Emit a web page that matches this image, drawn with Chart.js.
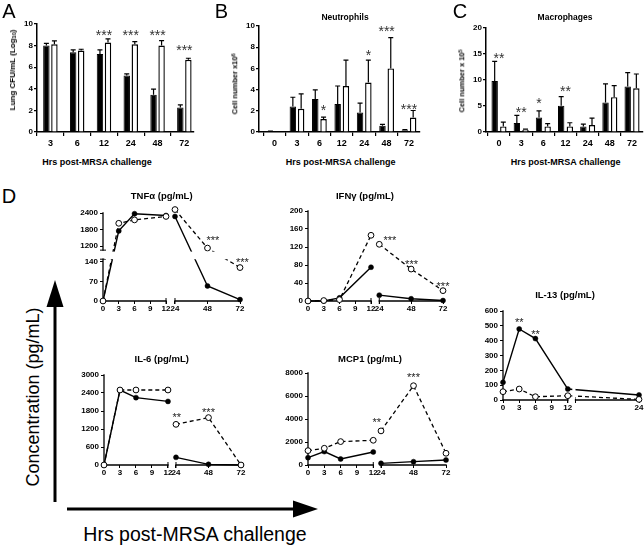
<!DOCTYPE html>
<html><head><meta charset="utf-8">
<script src="https://cdn.jsdelivr.net/npm/chart.js@4.4.0/dist/chart.umd.min.js"></script>
<style>
html,body{margin:0;padding:0;background:#fff;}
#wrap{position:relative;width:644px;height:547px;overflow:hidden;font-family:'Liberation Sans',Arial,sans-serif;color:#000;background:#fff;}
canvas{position:absolute;}
.t{position:absolute;white-space:nowrap;line-height:1;transform:translate(-50%,-50%);}
sup{font-size:0.7em;vertical-align:0.45em;line-height:0;}
sub{font-size:0.7em;vertical-align:-0.25em;line-height:0;}
svg{position:absolute;left:0;top:0;}
</style></head>
<body><div id="wrap"></div>
<script>
// ---------------- DATA ----------------
const hoursA = ['3','6','12','24','48','72'];
const cfuBlack = [8.0, 7.38, 7.23, 5.23, 3.45, 2.28];
const cfuBlackErr = [0.2, 0.22, 0.37, 0.15, 0.52, 0.24];
const cfuWhite = [8.12, 7.54, 8.28, 8.12, 8.0, 6.68];
const cfuWhiteErr = [0.31, 0.12, 0.34, 0.25, 0.46, 0.15];
const cfuTicks = [0, 2, 4, 6, 8, 10];
const starsA = [[2, 9.3, '***'], [3, 9.3, '***'], [4, 9.3, '***'], [5, 7.9, '***']];

const hoursBC = ['0','3','6','12','24','48','72'];
const neuBlack = [0.06, 2.4, 3.12, 2.65, 1.84, 0.6, 0.16];
const neuBlackErr = [0.02, 0.88, 0.85, 1.69, 0.88, 0.12, 0.06];
const neuWhite = [0, 2.19, 1.22, 4.34, 4.66, 6.0, 1.37];
const neuWhiteErr = [0, 1.4, 0.18, 2.44, 2.12, 2.9, 0.66];
const neuTicks = [0, 2, 4, 6, 8, 10];
const starsB = [[2, 2.33, '*', 1], [4, 7.58, '*', 1], [5, 9.78, '***'], [6, 2.45, '***']];

const macBlack = [9.8, 1.72, 2.8, 5.03, 1.08, 5.67, 8.73];
const macBlackErr = [3.8, 1.46, 1.28, 1.77, 0.45, 3.57, 2.67];
const macWhite = [1.08, 0.45, 1.08, 1.08, 1.34, 6.69, 8.41];
const macWhiteErr = [0.83, 0.12, 0.52, 0.7, 1.34, 2.23, 2.74];
const macTicks = [0, 5, 10, 15, 20];
const starsC = [[0, 14.8, '**'], [1, 4.4, '**'], [2, 6.15, '*', 0], [3, 8.5, '**']];

const cytoTimes = [0, 3, 6, 12, 24, 48, 72];
const timeTicks = [0, 3, 6, 9, 12, 24, 48, 72];

const tnfBlack = [0, 1750, 2375, 2310, 2275, 54, 5];
const tnfWhite = [0, 2025, 2150, 2275, 2525, 1125, 120];
const tnfTicks = [0, 70, 140, 1200, 1800, 2400];
const starsTNF = [[52, 1490, '***'], [73.7, 150, '***']];

const ifnBlack = [0, 0, 7, 75, 13, 5, 1];
const ifnWhite = [0, 1, 3, 146, 126, 71, 23];
const ifnTicks = [0, 40, 80, 120, 160, 200];
const starsIFN = [[32, 140, '***'], [48.3, 88.5, '***'], [72, 39, '***']];

const il6Black = [0, 2500, 2245, 2120, 255, 22, 0];
const il6White = [0, 2500, 2500, 2500, 1355, 1580, 0];
const il6Ticks = [0, 600, 1200, 1800, 2400, 3000];
const starsIL6 = [[24.5, 1667, '**'], [48, 1857, '***']];

const mcpBlack = [640, 1165, 525, 1135, 145, 290, 435];
const mcpWhite = [1250, 1455, 2035, 2150, 2965, 6895, 1020];
const mcpTicks = [0, 2000, 4000, 6000, 8000];
const starsMCP = [[17.3, 3930, '**'], [48, 7850, '***']];

const il13Times = [0, 3, 6, 12, 24];
const il13TimeTicks = [0, 3, 6, 9, 12, 24];
const il13Black = [119, 479, 414, 74, 34];
const il13White = [56, 74, 22, 29, 4];
const il13Ticks = [0, 100, 200, 300, 400, 500, 600];
const starsIL13 = [[3, 542, '**'], [6, 458, '**']];

// ---------------- SETUP ----------------
const FONT = "'Liberation Sans', Arial, sans-serif";
Chart.defaults.font.family = FONT;
Chart.defaults.color = '#000';
const wrap = document.getElementById('wrap');

function addCanvas(id, left, top, w, h) {
  const c = document.createElement('canvas');
  c.id = id; c.width = w; c.height = h;
  c.style.left = left + 'px'; c.style.top = top + 'px';
  c.style.width = w + 'px'; c.style.height = h + 'px';
  wrap.appendChild(c);
  return c;
}
function txt(html, x, y, size, bold, rot) {
  const d = document.createElement('div');
  d.className = 't'; d.innerHTML = html;
  d.style.left = x + 'px'; d.style.top = y + 'px';
  d.style.fontSize = size + 'px';
  d.style.fontWeight = bold ? 'bold' : 'normal';
  if (rot) d.style.transform = 'translate(-50%,-50%) rotate(-90deg)';
  wrap.appendChild(d);
}

// broken-axis scale
const brokenDefs = {};
function segDec(segs, v) {
  for (let i = 0; i < segs.length; i++) {
    const s = segs[i];
    if (v < s.from) {
      if (i === 0) return s.p0 + (v - s.from) / (s.to - s.from) * (s.p1 - s.p0);
      const p = segs[i - 1];
      return p.p1 + (v - p.to) / (s.from - p.to) * (s.p0 - p.p1);
    }
    if (v <= s.to) return s.p0 + (v - s.from) / (s.to - s.from) * (s.p1 - s.p0);
  }
  const s = segs[segs.length - 1];
  return s.p0 + (v - s.from) / (s.to - s.from) * (s.p1 - s.p0);
}
function segVal(segs, d) {
  for (let i = 0; i < segs.length; i++) {
    const s = segs[i];
    if (d <= s.p1 || i === segs.length - 1) return s.from + (d - s.p0) / (s.p1 - s.p0) * (s.to - s.from);
  }
}
class BrokenScale extends Chart.LinearScale {
  _segs() { return brokenDefs[this.chart.canvas.id][this.id]; }
  getPixelForValue(v) {
    if (v === null || v === undefined || isNaN(v)) return NaN;
    return this.getPixelForDecimal(segDec(this._segs(), v));
  }
  getValueForPixel(p) { return segVal(this._segs(), this.getDecimalForPixel(p)); }
}
BrokenScale.id = 'broken';
BrokenScale.defaults = {};
Chart.register(BrokenScale);

// ---------------- BAR PANELS ----------------
function makeBar(id, g, labels, blk, blkErr, wht, whtErr, yTicks, stars, xr, catPct, barPct) {
  const cv = addCanvas(id, g.left, 0, g.w, g.h);
  const idx = labels.map((_, i) => i);
  const vals = [blk, wht], errs = [blkErr, whtErr];
  const plug = {
    id: 'eb_' + id,
    afterDatasetsDraw(chart) {
      const ctx = chart.ctx, ys = chart.scales.y, xs = chart.scales.x;
      ctx.save();
      ctx.strokeStyle = '#000'; ctx.lineWidth = 1.2;
      [0, 1].forEach(di => {
        const meta = chart.getDatasetMeta(di);
        meta.data.forEach((el, i) => {
          const e = errs[di][i]; if (!e) return;
          const x = el.x, y0 = ys.getPixelForValue(vals[di][i]), y1 = ys.getPixelForValue(vals[di][i] + e);
          ctx.beginPath();
          ctx.moveTo(x, y0); ctx.lineTo(x, y1);
          ctx.moveTo(x - 2.5, y1); ctx.lineTo(x + 2.5, y1);
          ctx.stroke();
        });
      });
      ctx.fillStyle = '#333'; ctx.font = '14px ' + FONT;
      ctx.textAlign = 'center'; ctx.textBaseline = 'alphabetic';
      stars.forEach(([ci, v, t, bar]) => {
        const x = (bar === undefined) ? xs.getPixelForValue(ci) : chart.getDatasetMeta(bar).data[ci].x;
        ctx.fillText(t, x, ys.getPixelForValue(v) + 0.58 * 14);
      });
      ctx.restore();
    }
  };
  new Chart(cv, {
    type: 'bar',
    data: { datasets: [
      { data: idx.map(i => ({ x: i, y: blk[i] })), backgroundColor: '#000', borderColor: '#000', borderWidth: 1,
        categoryPercentage: catPct, barPercentage: barPct },
      { data: idx.map(i => ({ x: i, y: wht[i] })), backgroundColor: '#fff', borderColor: '#000', borderWidth: 1.4,
        categoryPercentage: catPct, barPercentage: barPct }
    ]},
    options: {
      responsive: false, animation: false, events: [], devicePixelRatio: 1,
      layout: { padding: { top: g.pt, right: g.pr, left: 0, bottom: 0 } },
      plugins: { legend: { display: false }, tooltip: { enabled: false } },
      scales: {
        x: { type: 'linear', min: xr[0], max: xr[1], offset: false,
          grid: { display: true, offset: true, drawOnChartArea: false, tickLength: 4, color: '#000', lineWidth: 1.2 },
          border: { display: true, color: '#000', width: 1.5 },
          ticks: { color: '#000', font: { size: 9, weight: 'bold' }, padding: 2, autoSkip: false, maxRotation: 0, minRotation: 0,
            callback: v => labels[v] },
          afterBuildTicks: s => { s.ticks = idx.map(v => ({ value: v })); },
          afterFit: s => { s.height = g.xh; } },
        y: { type: 'linear', min: 0, max: yTicks[yTicks.length - 1],
          grid: { drawOnChartArea: false, tickLength: 3, color: '#000', lineWidth: 1.2 },
          border: { display: true, color: '#000', width: 1.5 },
          ticks: { color: '#000', font: { size: 8, weight: 'bold' }, padding: 1, callback: v => String(v) },
          afterBuildTicks: s => { s.ticks = yTicks.map(v => ({ value: v })); },
          afterFit: s => { s.width = g.yw; } }
      }
    },
    plugins: [plug]
  });
}

makeBar('cA', { left: 0, w: 200, h: 155, yw: 37, pt: 24, pr: 6, xh: 23 }, hoursA,
  cfuBlack, cfuBlackErr, cfuWhite, cfuWhiteErr, cfuTicks, starsA, [-0.5, 5.36], 0.6, 0.8);
makeBar('cB', { left: 212, w: 214, h: 155, yw: 47, pt: 26, pr: 6, xh: 23 }, hoursBC,
  neuBlack, neuBlackErr, neuWhite, neuWhiteErr, neuTicks, starsB, [-0.696, 6.49], 0.74, 0.78);
makeBar('cC', { left: 440, w: 204, h: 155, yw: 46, pt: 28, pr: 1, xh: 23 }, hoursBC,
  macBlack, macBlackErr, macWhite, macWhiteErr, macTicks, starsC, [-0.586, 6.495], 0.78, 0.74);

// ---------------- LINE PANELS ----------------
function pts(times, vals, gapAfter) {
  const out = [];
  times.forEach((t, i) => {
    out.push({ x: t, y: vals[i] });
    if (gapAfter !== null && t === gapAfter) out.push({ x: t + 0.5, y: null });
  });
  return out;
}
function makeLine(id, g, xSegs, ySegs, xTicks, yTicks, times, blk, wht, gapAfter, stars, masks) {
  brokenDefs[id] = { x: xSegs, y: ySegs };
  const pr = g.pr === undefined ? 6 : g.pr;
  const cv = addCanvas(id, g.L - 40, g.T - 12, g.R + pr - (g.L - 40), g.B + 16 - (g.T - 12));
  const plug = {
    id: 'd_' + id,
    beforeDatasetsDraw(chart) {
      const ctx = chart.ctx, ca = chart.chartArea, xs = chart.scales.x, ys = chart.scales.y;
      ctx.save(); ctx.strokeStyle = '#000'; ctx.lineWidth = 1.3; ctx.lineCap = 'square';
      const seg = (x1, y1, x2, y2) => { ctx.beginPath(); ctx.moveTo(x1, y1); ctx.lineTo(x2, y2); ctx.stroke(); };
      xSegs.forEach((s, i) => {
        const a = xs.getPixelForValue(s.from), b = xs.getPixelForValue(s.to);
        seg(a, ca.bottom, b, ca.bottom);
        if (xSegs.length > 1) {
          ctx.lineCap = 'butt'; ctx.lineWidth = 1;
          if (i > 0) seg(a, ca.bottom - 3, a, ca.bottom + 3);
          if (i < xSegs.length - 1) seg(b, ca.bottom - 3, b, ca.bottom + 3);
          ctx.lineCap = 'square'; ctx.lineWidth = 1.3;
        }
      });
      ySegs.forEach((s, i) => {
        const a = ys.getPixelForValue(s.from), b = ys.getPixelForValue(s.to);
        seg(ca.left, a, ca.left, b);
        if (ySegs.length > 1) {
          ctx.lineCap = 'butt'; ctx.lineWidth = 1;
          if (i > 0) seg(ca.left - 3, a, ca.left + 3, a);
          if (i < ySegs.length - 1) seg(ca.left - 3, b, ca.left + 3, b);
          ctx.lineCap = 'square'; ctx.lineWidth = 1.3;
        }
      });
      ctx.restore();
    },
    afterDatasetsDraw(chart) {
      const ctx = chart.ctx, ca = chart.chartArea, xs = chart.scales.x, ys = chart.scales.y;
      ctx.save();
      ctx.fillStyle = '#fff';
      masks.forEach(m => {
        if (m.axis === 'y') {
          const y1 = ys.getPixelForValue(m.hi) + m.pad, y2 = ys.getPixelForValue(m.lo);
          ctx.fillRect(ca.left + 1.5, y1, ca.right - ca.left + 10, y2 - y1);
        } else {
          const x1 = xs.getPixelForValue(m.lo) + m.pad, x2 = xs.getPixelForValue(m.hi);
          ctx.fillRect(x1, ca.top - 12, x2 - x1, ca.bottom - ca.top + 11);
        }
      });
      ctx.fillStyle = '#222'; ctx.font = '11px ' + FONT;
      ctx.textAlign = 'center'; ctx.textBaseline = 'alphabetic';
      stars.forEach(([sx, sy, t]) => ctx.fillText(t, xs.getPixelForValue(sx), ys.getPixelForValue(sy) + 0.58 * 11));
      ctx.restore();
    }
  };
  const xMax = xSegs[xSegs.length - 1].to, yMax = ySegs[ySegs.length - 1].to;
  new Chart(cv, {
    type: 'line',
    data: { datasets: [
      { data: pts(times, wht, gapAfter), borderColor: '#000', borderWidth: 1.3, borderDash: [4, 3],
        pointRadius: 2.9, pointBorderWidth: 1, pointBackgroundColor: '#fff', pointBorderColor: '#000',
        clip: false, spanGaps: false, tension: 0, fill: false },
      { data: pts(times, blk, gapAfter), borderColor: '#000', borderWidth: 1.4,
        pointRadius: 2.5, pointBorderWidth: 0.5, pointBackgroundColor: '#000', pointBorderColor: '#000',
        clip: false, spanGaps: false, tension: 0, fill: false }
    ]},
    options: {
      responsive: false, animation: false, events: [], devicePixelRatio: 1,
      layout: { padding: { top: 12, right: pr, left: 0, bottom: 0 } },
      plugins: { legend: { display: false }, tooltip: { enabled: false } },
      scales: {
        x: { type: 'broken', min: 0, max: xMax,
          grid: { drawOnChartArea: false, tickLength: 3, color: '#000', lineWidth: 1 },
          border: { display: false },
          ticks: { color: '#000', font: { size: 8, weight: 'bold' }, padding: 0, autoSkip: false, maxRotation: 0, minRotation: 0,
            callback: v => String(v) },
          afterBuildTicks: s => { s.ticks = xTicks.map(v => ({ value: v })); },
          afterFit: s => { s.height = 16; } },
        y: { type: 'broken', min: 0, max: yMax,
          grid: { drawOnChartArea: false, tickLength: 3, color: '#000', lineWidth: 1 },
          border: { display: false },
          ticks: { color: '#000', font: { size: 8, weight: 'bold' }, padding: 2, callback: v => String(v) },
          afterBuildTicks: s => { s.ticks = yTicks.map(v => ({ value: v })); },
          afterFit: s => { s.width = 40; } }
      }
    },
    plugins: [plug]
  });
}

const xStd = (p1, p0) => [{ from: 0, to: 12, p0: 0, p1: p1 }, { from: 24, to: 72, p0: p0, p1: 1 }];
const ySingle = max => [{ from: 0, to: max, p0: 0, p1: 1 }];

makeLine('dTNF', { L: 103, R: 240, T: 213, B: 301, pr: 14 }, xStd(0.46, 0.5255),
  [{ from: 0, to: 150, p0: 0, p1: 0.475 }, { from: 1050, to: 2400, p0: 0.578, p1: 1 }],
  timeTicks, tnfTicks, cytoTimes, tnfBlack, tnfWhite, 12, starsTNF,
  [{ axis: 'y', lo: 150, hi: 1050, pad: 1.5 }]);
makeLine('dIFN', { L: 308, R: 443, T: 211, B: 301, pr: 14 }, xStd(0.4667, 0.528), ySingle(200),
  timeTicks, ifnTicks, cytoTimes, ifnBlack, ifnWhite, 12, starsIFN, []);
makeLine('dIL6', { L: 104, R: 241, T: 375, B: 465 }, xStd(0.467, 0.5255), ySingle(3000),
  timeTicks, il6Ticks, cytoTimes, il6Black, il6White, 12, starsIL6, []);
makeLine('dMCP', { L: 308, R: 446, T: 373, B: 465 }, xStd(0.473, 0.529), ySingle(8000),
  timeTicks, mcpTicks, cytoTimes, mcpBlack, mcpWhite, 12, starsMCP, []);
makeLine('dIL13', { L: 503, R: 640, T: 311, B: 400, pr: 4 },
  [{ from: 0, to: 12, p0: 0, p1: 0.4766 }, { from: 13, to: 24, p0: 0.533, p1: 1 }], ySingle(600),
  il13TimeTicks, il13Ticks, il13Times, il13Black, il13White, null, starsIL13,
  [{ axis: 'x', lo: 12, hi: 13, pad: 4.5 }]);

// ---------------- TEXT ----------------
txt('A', 9, 11, 20); txt('B', 221.5, 10.5, 20); txt('C', 460, 10.5, 20); txt('D', 9, 195.5, 20);
txt('Neutrophils', 345, 17, 8.5, true);
txt('Macrophages', 565, 17, 8.5, true);
txt('Hrs post-MRSA challenge', 97, 162, 9, true);
txt('Hrs post-MRSA challenge', 340.7, 162.3, 9, true);
txt('Hrs post-MRSA challenge', 565.7, 162.3, 9, true);
txt('Lung CFU/mL (Log<sub>10</sub>)', 12.5, 70, 8, true, true);
txt('Cell number x10<sup>6</sup>', 235, 84, 7.5, true, true);
txt('Cell number x 10<sup>5</sup>', 462, 81, 7.5, true, true);
txt('TNF&alpha; (pg/mL)', 161.7, 195.7, 9.5, true);
txt('IFN&gamma; (pg/mL)', 365, 196, 9.5, true);
txt('IL-6 (pg/mL)', 161.7, 359.3, 9.5, true);
txt('MCP1 (pg/mL)', 370, 359.3, 9.5, true);
txt('IL-13 (pg/mL)', 565, 295, 9.5, true);
txt('Concentration (pg/mL)', 33, 397, 18, false, true);
txt('Hrs post-MRSA challenge', 195, 535, 19.5, false);

// ---------------- ARROWS ----------------
const svgNS = 'http://www.w3.org/2000/svg';
const svg = document.createElementNS(svgNS, 'svg');
svg.setAttribute('width', 644); svg.setAttribute('height', 547);
svg.innerHTML =
  '<line x1="55" y1="502" x2="55" y2="300" stroke="#000" stroke-width="3"/>' +
  '<polygon points="55,280 46.5,307 63.5,307" fill="#000"/>' +
  '<line x1="67" y1="509" x2="298" y2="509" stroke="#000" stroke-width="3"/>' +
  '<polygon points="318,509 293,500.5 293,517.5" fill="#000"/>';
wrap.appendChild(svg);
</script>
</body></html>
